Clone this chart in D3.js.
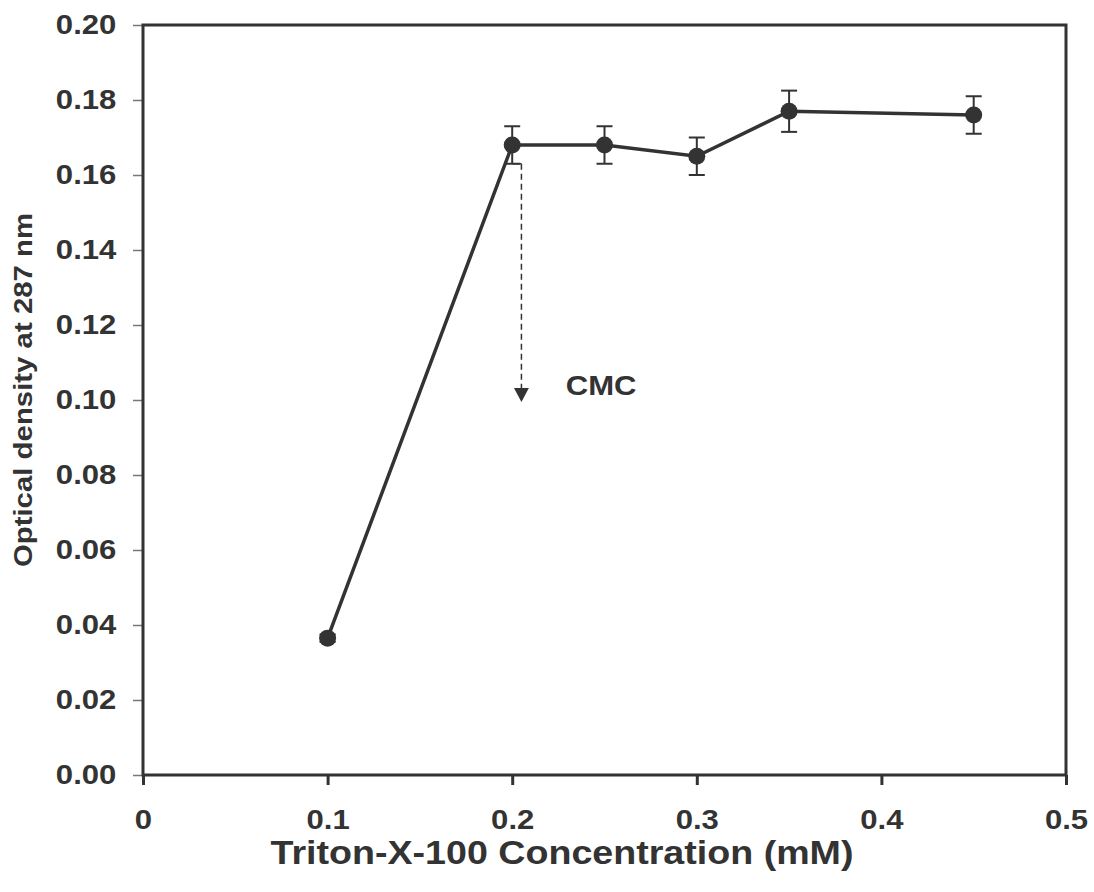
<!DOCTYPE html>
<html>
<head>
<meta charset="utf-8">
<script src="https://cdn.jsdelivr.net/npm/d3@7"></script>
<style>
  html, body { margin: 0; padding: 0; background: #fff; }
  svg text { font-family: "Liberation Sans", Arial, sans-serif; font-weight: bold; fill: #333; }
</style>
</head>
<body>
<svg id="chart" width="1094" height="892"></svg>
<script>
// Triton X-100 concentration (mM) vs optical density at 287 nm
const concentration = [0.1, 0.2, 0.25, 0.3, 0.35, 0.45];
const opticalDensity = [0.0365, 0.168, 0.168, 0.165, 0.177, 0.176];
const stdError = [0.001, 0.005, 0.005, 0.005, 0.0055, 0.005];
const xTicks = [0, 0.1, 0.2, 0.3, 0.4, 0.5];
const yTicks = [0, 0.02, 0.04, 0.06, 0.08, 0.10, 0.12, 0.14, 0.16, 0.18, 0.20];
// CMC marker: dashed arrow from the plateau down to the label
const cmcArrow = { x: 0.205, yFrom: 0.163, yTo: 0.0995 };
const cmcLabel = { x: 0.229, y: 0.1013, text: "CMC" };

const ink = "#333";
const wide = 1.11; // horizontal widening of the bold labels
const svg = d3.select("#chart");
const x = d3.scaleLinear().domain([0, 0.5]).range([143, 1066]);
const y = d3.scaleLinear().domain([0, 0.2]).range([775, 25]);

// x axis: ticks pointing down
const xAxis = svg.append("g")
  .attr("transform", `translate(0,${y(0)})`)
  .call(d3.axisBottom(x).tickValues(xTicks).tickSize(10).tickPadding(24)
    .tickFormat(d => d === 0 ? "0" : d3.format(".1f")(d)));
xAxis.select(".domain").remove();
xAxis.selectAll(".tick line").attr("stroke", ink).attr("stroke-width", 3);
xAxis.selectAll(".tick text").attr("font-size", 28).attr("fill", ink)
  .attr("transform", `scale(${wide},1)`);

// y axis: thin ticks pointing left
const yAxis = svg.append("g")
  .attr("transform", `translate(${x(0)},0)`)
  .call(d3.axisLeft(y).tickValues(yTicks).tickSize(10).tickPadding(14)
    .tickFormat(d3.format(".2f")));
yAxis.select(".domain").remove();
yAxis.selectAll(".tick line").attr("stroke", "#777").attr("stroke-width", 1.5);
yAxis.selectAll(".tick text").attr("font-size", 28).attr("fill", ink)
  .attr("transform", `scale(${wide},1)`);

// plot frame
svg.append("rect")
  .attr("x", x(0)).attr("y", y(0.2))
  .attr("width", x(0.5) - x(0)).attr("height", y(0) - y(0.2))
  .attr("fill", "none").attr("stroke", ink).attr("stroke-width", 3);

const points = concentration.map((c, i) => ({ c, v: opticalDensity[i], e: stdError[i] }));

// error bars
const eb = svg.append("g").attr("stroke", ink).attr("stroke-width", 2);
points.forEach(p => {
  eb.append("line").attr("x1", x(p.c)).attr("x2", x(p.c))
    .attr("y1", y(p.v + p.e)).attr("y2", y(p.v - p.e));
  [p.v + p.e, p.v - p.e].forEach(v => {
    eb.append("line").attr("x1", x(p.c) - 8).attr("x2", x(p.c) + 8)
      .attr("y1", y(v)).attr("y2", y(v));
  });
});

// data line
svg.append("path")
  .datum(points)
  .attr("d", d3.line().x(d => x(d.c)).y(d => y(d.v)))
  .attr("fill", "none").attr("stroke", ink).attr("stroke-width", 3.5);

// markers
svg.append("g").selectAll("circle").data(points).join("circle")
  .attr("cx", d => x(d.c)).attr("cy", d => y(d.v)).attr("r", 8.5)
  .attr("fill", ink);

// CMC dashed arrow
svg.append("defs").append("marker")
  .attr("id", "arrowHead").attr("viewBox", "0 0 14 15")
  .attr("refX", 14).attr("refY", 7.5)
  .attr("markerWidth", 14).attr("markerHeight", 15)
  .attr("markerUnits", "userSpaceOnUse").attr("orient", "auto")
  .append("path").attr("d", "M0,0 L14,7.5 L0,15 Z").attr("fill", ink);
svg.append("line")
  .attr("x1", x(cmcArrow.x) - 9).attr("x2", x(cmcArrow.x))
  .attr("y1", y(cmcArrow.yFrom)).attr("y2", y(cmcArrow.yFrom))
  .attr("stroke", ink).attr("stroke-width", 1.5);
svg.append("line")
  .attr("x1", x(cmcArrow.x)).attr("x2", x(cmcArrow.x))
  .attr("y1", y(cmcArrow.yFrom)).attr("y2", y(cmcArrow.yTo))
  .attr("stroke", ink).attr("stroke-width", 1.5)
  .attr("stroke-dasharray", "6,4")
  .attr("marker-end", "url(#arrowHead)");
svg.append("text")
  .attr("transform", `translate(${x(cmcLabel.x)},${y(cmcLabel.y)}) scale(${wide},1)`)
  .attr("font-size", 28).text(cmcLabel.text);

// axis titles
svg.append("text")
  .attr("transform", `translate(562,864) scale(1.14,1)`)
  .attr("text-anchor", "middle")
  .attr("font-size", 33).text("Triton-X-100 Concentration (mM)");
svg.append("text")
  .attr("transform", `translate(32,390) rotate(-90) scale(1.13,1)`)
  .attr("text-anchor", "middle")
  .attr("font-size", 26).text("Optical density at 287 nm");
</script>
</body>
</html>
